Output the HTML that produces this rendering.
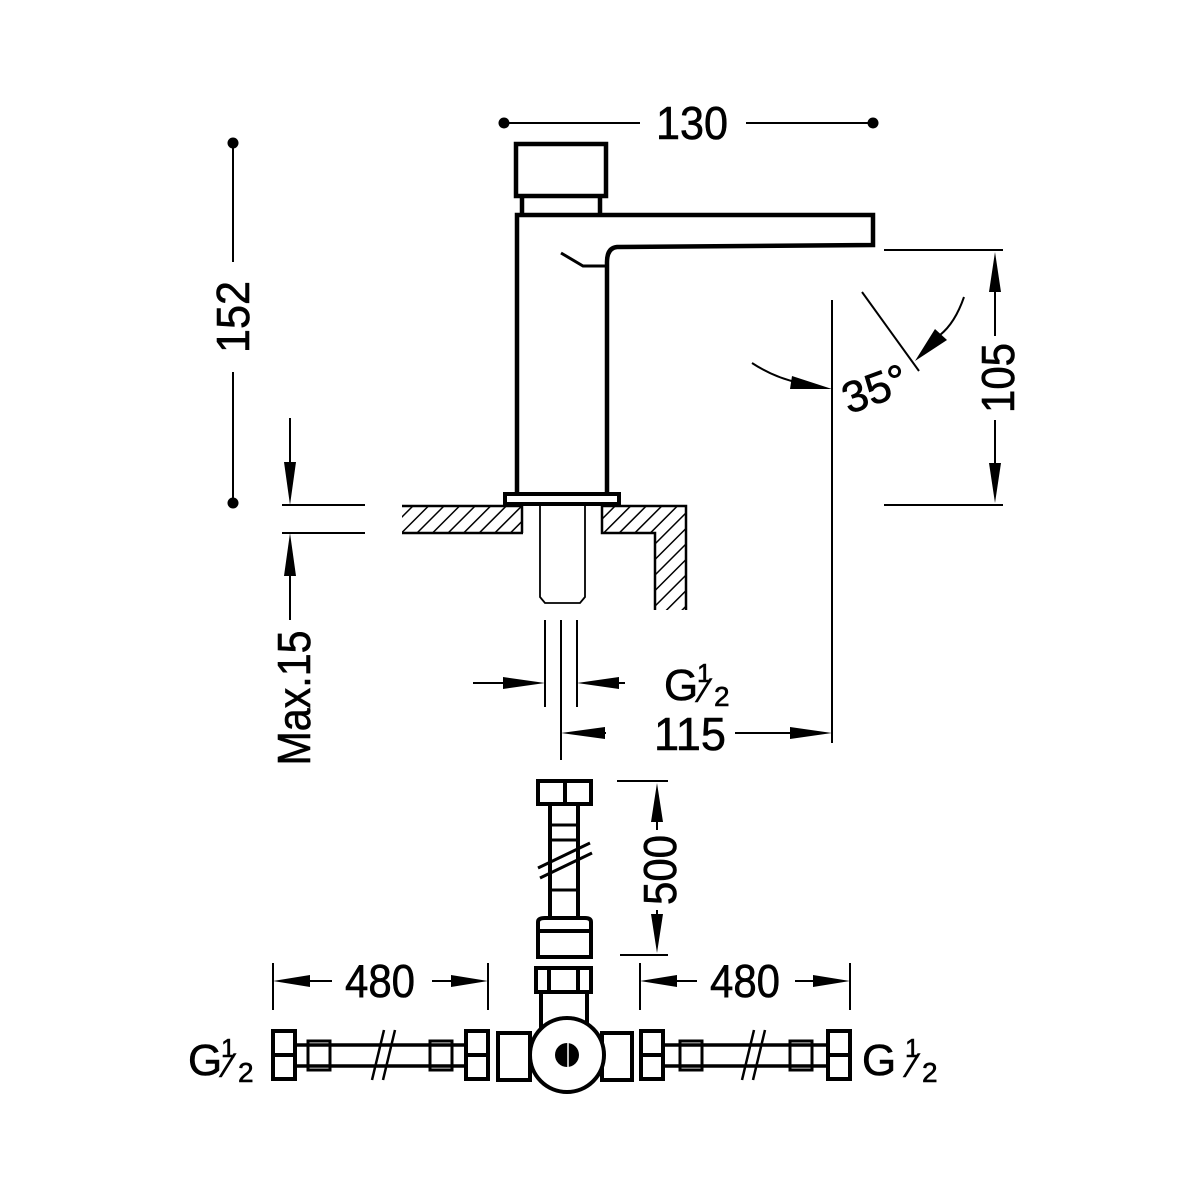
<!DOCTYPE html>
<html><head><meta charset="utf-8"><style>
html,body{margin:0;padding:0;background:#fff;}
svg{display:block;}
text{font-family:"Liberation Sans",sans-serif;fill:#000;stroke:#000;stroke-width:0.6;}
</style></head><body>
<svg width="1200" height="1200" viewBox="0 0 1200 1200" xmlns="http://www.w3.org/2000/svg">
<defs>
<pattern id="h" patternUnits="userSpaceOnUse" width="11" height="11" patternTransform="rotate(45)">
<line x1="0" y1="0" x2="0" y2="11" stroke="#000" stroke-width="3"/>
</pattern>
</defs>
<g stroke="#000" fill="none" stroke-width="2">
<line x1="504" y1="123" x2="640" y2="123"/>
<line x1="746" y1="123" x2="873" y2="123"/>
<line x1="233" y1="143" x2="233" y2="262"/>
<line x1="233" y1="372" x2="233" y2="503"/>
</g>
<circle cx="504" cy="123" r="5.5"/><circle cx="873" cy="123" r="5.5"/>
<circle cx="233" cy="143" r="5.5"/><circle cx="233" cy="503" r="5.5"/>
<text x="692" y="139" font-size="46" text-anchor="middle" textLength="72" lengthAdjust="spacingAndGlyphs">130</text>
<text transform="translate(249,317) rotate(-90)" font-size="46" text-anchor="middle" textLength="72" lengthAdjust="spacingAndGlyphs">152</text>

<g stroke="#000" fill="none" stroke-width="4.5">
<rect x="516" y="144" width="90" height="52"/>
<line x1="522" y1="196" x2="522" y2="215"/>
<line x1="600" y1="196" x2="600" y2="215"/>
<path d="M517 495 L517 215 L873 215 L873 245 L617 247 Q607 248 607 262 L607 495"/>
<path d="M561 253 L583 266 L606 266" stroke-width="3"/>
<rect x="505" y="494" width="114" height="10" stroke-width="4"/>
</g>
<rect x="402" y="506" width="120" height="27" fill="url(#h)"/>
<path d="M602 506 L686 506 L686 610 L655 610 L655 533 L602 533 Z" fill="url(#h)"/>
<g stroke="#000" fill="none" stroke-width="2.5">
<line x1="402" y1="506" x2="522" y2="506"/><line x1="402" y1="533" x2="523" y2="533"/>
<line x1="522" y1="506" x2="522" y2="533"/>
<path d="M602 506 L686 506 L686 610 M655 610 L655 533 L602 533 L602 506"/>
<path d="M540 506 L540 597 L545 603 L580 603 L585 597 L585 506" stroke-width="1.8"/>
</g>

<g stroke="#000" fill="none" stroke-width="2">
<line x1="290" y1="418" x2="290" y2="490"/>
<line x1="290" y1="550" x2="290" y2="620"/>
<line x1="282" y1="505" x2="365" y2="505"/>
<line x1="282" y1="533" x2="365" y2="533"/>
</g>
<polygon points="284,462 296,462 290,505" fill="#000"/>
<polygon points="284,576 296,576 290,533" fill="#000"/>
<text transform="translate(310,698) rotate(-90)" font-size="46" text-anchor="middle" textLength="135" lengthAdjust="spacingAndGlyphs">Max.15</text>

<g stroke="#000" fill="none" stroke-width="2">
<line x1="545" y1="620" x2="545" y2="707"/>
<line x1="577" y1="620" x2="577" y2="707"/>
<line x1="561" y1="620" x2="561" y2="760"/>
<line x1="473" y1="683" x2="510" y2="683"/>
<line x1="612" y1="683" x2="625" y2="683"/>
<line x1="600" y1="733" x2="606" y2="733"/>
<line x1="735" y1="733" x2="792" y2="733"/>
<line x1="832" y1="300" x2="832" y2="743"/>
</g>
<polygon points="503,677 503,689 545,683" fill="#000"/>
<polygon points="619,677 619,689 577,683" fill="#000"/>
<polygon points="605,727 605,739 561,733" fill="#000"/>
<polygon points="790,727 790,739 832,733" fill="#000"/>
<text x="664" y="700" font-size="44">G</text>
<text x="697" y="682" font-size="26">1</text>
<text x="702" y="702" font-size="34">⁄</text>
<text x="714" y="706" font-size="28">2</text>
<text x="690" y="750" font-size="46" text-anchor="middle" textLength="72" lengthAdjust="spacingAndGlyphs">115</text>

<g stroke="#000" fill="none" stroke-width="2">
<path d="M752 363 Q775 378 800 383"/>
<line x1="862" y1="292" x2="919" y2="371"/>
<path d="M964 297 Q955 323 940 335"/>
<line x1="884" y1="250" x2="1003" y2="250"/>
<line x1="884" y1="505" x2="1003" y2="505"/>
<line x1="995" y1="290" x2="995" y2="336"/>
<line x1="995" y1="420" x2="995" y2="465"/>
</g>
<polygon points="792,376 790,389 832,389" fill="#000"/>
<polygon points="935,329 947,340 915,361" fill="#000"/>
<polygon points="989,292 1001,292 995,252" fill="#000"/>
<polygon points="989,463 1001,463 995,503" fill="#000"/>
<text transform="translate(880,403) rotate(-20)" font-size="44" text-anchor="middle">35°</text>
<text transform="translate(1014,378) rotate(-90)" font-size="46" text-anchor="middle" textLength="70" lengthAdjust="spacingAndGlyphs">105</text>

<g stroke="#000" fill="none" stroke-width="4">
<rect x="538" y="781" width="53" height="23"/>
<line x1="565" y1="781" x2="565" y2="804"/>
<path d="M550 804 L550 918 M578 804 L578 918"/>
<line x1="550" y1="825" x2="578" y2="825" stroke-width="3"/>
<line x1="550" y1="840" x2="578" y2="840" stroke-width="3"/>
<line x1="550" y1="890" x2="578" y2="890" stroke-width="3"/>
<path d="M538 935 L538 922 Q538 918 545 918 L585 918 Q591 918 591 922 L591 935"/>
<rect x="538" y="931" width="53" height="26"/>
<rect x="536" y="968" width="55" height="24"/>
<line x1="549" y1="968" x2="549" y2="992"/><line x1="578" y1="968" x2="578" y2="992"/>
<line x1="541" y1="992" x2="541" y2="1030"/><line x1="587" y1="992" x2="587" y2="1030"/>
<rect x="498" y="1033" width="32" height="47"/>
<rect x="602" y="1033" width="30" height="47"/>
<circle cx="567" cy="1055" r="37" fill="#fff"/>
</g>
<circle cx="567" cy="1055" r="12" fill="#000"/>
<line x1="568" y1="1043" x2="568" y2="1067" stroke="#fff" stroke-width="1.5"/>
<g stroke="#000" stroke-width="3"><line x1="538" y1="868" x2="590" y2="843"/><line x1="540" y1="878" x2="592" y2="853"/></g>

<g stroke="#000" fill="none" stroke-width="2">
<line x1="617" y1="781" x2="668" y2="781"/>
<line x1="620" y1="955" x2="668" y2="955"/>
<line x1="657" y1="810" x2="657" y2="830"/>
<line x1="657" y1="910" x2="657" y2="935"/>
</g>
<polygon points="651,822 663,822 657,783" fill="#000"/>
<polygon points="651,914 663,914 657,953" fill="#000"/>
<text transform="translate(676,870) rotate(-90)" font-size="46" text-anchor="middle" textLength="70" lengthAdjust="spacingAndGlyphs">500</text>

<g stroke="#000" fill="none" stroke-width="2">
<line x1="273" y1="963" x2="273" y2="1010"/><line x1="488" y1="963" x2="488" y2="1010"/>
<line x1="640" y1="963" x2="640" y2="1010"/><line x1="850" y1="963" x2="850" y2="1010"/>
<line x1="300" y1="981" x2="332" y2="981"/><line x1="432" y1="981" x2="460" y2="981"/>
<line x1="668" y1="981" x2="697" y2="981"/><line x1="795" y1="981" x2="822" y2="981"/>
</g>
<polygon points="273,981 310,975 310,987" fill="#000"/>
<polygon points="488,981 451,975 451,987" fill="#000"/>
<polygon points="640,981 677,975 677,987" fill="#000"/>
<polygon points="850,981 813,975 813,987" fill="#000"/>
<text x="380" y="997" font-size="46" text-anchor="middle" textLength="70" lengthAdjust="spacingAndGlyphs">480</text>
<text x="745" y="997" font-size="46" text-anchor="middle" textLength="70" lengthAdjust="spacingAndGlyphs">480</text>

<g stroke="#000" fill="none" stroke-width="4">
<rect x="273" y="1031" width="22" height="48"/>
<line x1="273" y1="1055" x2="295" y2="1055"/>
<rect x="466" y="1031" width="22" height="48"/>
<line x1="466" y1="1055" x2="488" y2="1055"/>
<path d="M297 1045 L464 1045 M297 1066 L464 1066" stroke-width="3.5"/>
<rect x="308" y="1041" width="22" height="29" stroke-width="3"/>
<rect x="430" y="1041" width="22" height="29" stroke-width="3"/>
<rect x="641" y="1031" width="22" height="48"/>
<line x1="641" y1="1055" x2="663" y2="1055"/>
<rect x="828" y="1031" width="22" height="48"/>
<line x1="828" y1="1055" x2="850" y2="1055"/>
<path d="M665 1045 L826 1045 M665 1066 L826 1066" stroke-width="3.5"/>
<rect x="680" y="1041" width="22" height="29" stroke-width="3"/>
<rect x="790" y="1041" width="22" height="29" stroke-width="3"/>
</g>
<g stroke="#000" stroke-width="2.5">
<line x1="372" y1="1080" x2="384" y2="1030"/><line x1="383" y1="1080" x2="395" y2="1030"/>
<line x1="742" y1="1080" x2="754" y2="1030"/><line x1="753" y1="1080" x2="765" y2="1030"/>
</g>
<text x="188" y="1075" font-size="44">G</text>
<text x="221" y="1057" font-size="26">1</text>
<text x="226" y="1077" font-size="34">⁄</text>
<text x="238" y="1082" font-size="28">2</text>
<text x="862" y="1075" font-size="44">G</text>
<text x="905" y="1057" font-size="26">1</text>
<text x="910" y="1077" font-size="34">⁄</text>
<text x="922" y="1082" font-size="28">2</text>
</svg>
</body></html>
